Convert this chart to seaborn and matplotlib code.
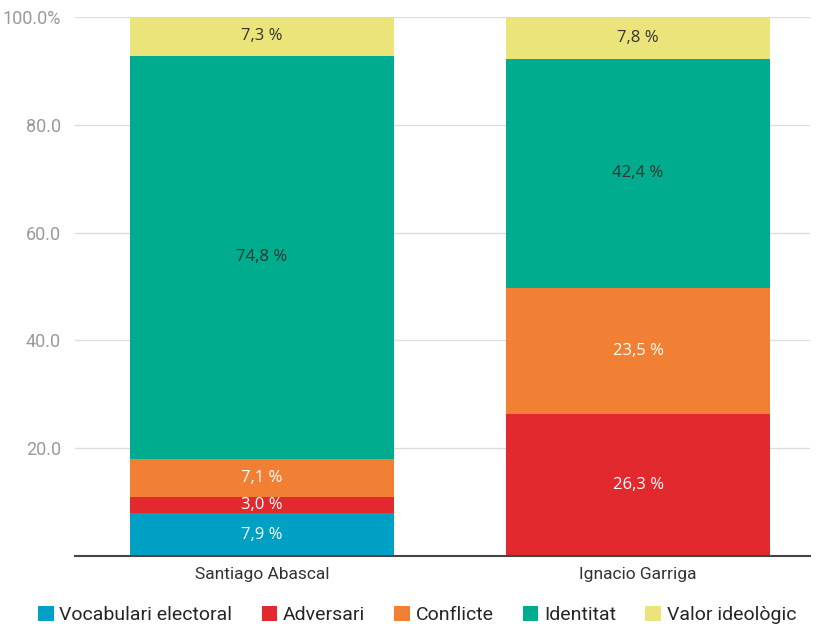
import matplotlib
matplotlib.use("Agg")
import matplotlib.pyplot as plt
from matplotlib.patches import Patch
import numpy as np
import pandas as pd
import seaborn as sns

# ----------------------------
# Data
# ----------------------------
speakers = ["Santiago Abascal", "Ignacio Garriga"]
categories = ["Vocabulari electoral", "Adversari", "Conflicte", "Identitat", "Valor ideològic"]
vocabulari = [7.9, 0.0]
adversari = [3.0, 26.3]
conflicte = [7.1, 23.5]
identitat = [74.8, 42.4]
valor = [7.3, 7.8]
yticks = [20, 40, 60, 80, 100]
ytick_labels = ["20.0", "40.0", "60.0", "80.0", "100.0%"]

colors = ["#00A0C4", "#E2292E", "#F28034", "#00AC8E", "#EBE47A"]
text_colors = ["white", "white", "white", "#333333", "#333333"]

series = [vocabulari, adversari, conflicte, identitat, valor]

# ----------------------------
# Plot
# ----------------------------
sns.set_style("white")
plt.rcParams["font.family"] = ["Roboto", "DejaVu Sans"]

fig = plt.figure(figsize=(8.18, 6.26), dpi=100)
ax = fig.add_axes([75 / 818, 70 / 626, 735 / 818, 539 / 626])

bottom = np.zeros(len(speakers))
for vals, cat, col, tcol in zip(series, categories, colors, text_colors):
    df = pd.DataFrame({"speaker": speakers, "value": vals})
    sns.barplot(data=df, x="speaker", y="value", color=col, bottom=bottom,
                width=0.7, ax=ax, saturation=1, errorbar=None, zorder=3,
                linewidth=0, edgecolor="none")
    for i, v in enumerate(vals):
        if v > 0:
            ax.text(i, bottom[i] + v / 2, f"{v:.1f} %".replace(".", ","),
                    ha="center", va="center", color=tcol, fontsize=12,
                    family=["Open Sans", "DejaVu Sans"], zorder=4)
    bottom = bottom + np.array(vals)

ax.set_ylim(0, 100)
ax.set_xlim(-0.497, 1.457)
ax.set_yticks(yticks)
ax.set_yticklabels(ytick_labels)
ax.tick_params(axis="y", colors="#9a9a9a", labelsize=13, length=0, pad=10)
ax.tick_params(axis="x", colors="#333333", labelsize=12.5, length=0, pad=8)
ax.grid(axis="y", color="#dddddd", linewidth=1, zorder=0)
ax.set_xlabel("")
ax.set_ylabel("")
for s in ["top", "right", "left"]:
    ax.spines[s].set_visible(False)
ax.spines["bottom"].set_color("#444444")
ax.spines["bottom"].set_linewidth(1.5)
ax.spines["bottom"].set_zorder(5)

handles = [Patch(facecolor=c, edgecolor="none") for c in colors]
fig.legend(handles, categories, loc="center", bbox_to_anchor=(0.51, 0.018),
           ncol=5, frameon=False, handlelength=0.8, handleheight=0.8,
           handletextpad=0.3, columnspacing=1.5,
           prop={"family": ["Roboto", "DejaVu Sans"], "size": 14})

fig.savefig("out.png", dpi=100)
